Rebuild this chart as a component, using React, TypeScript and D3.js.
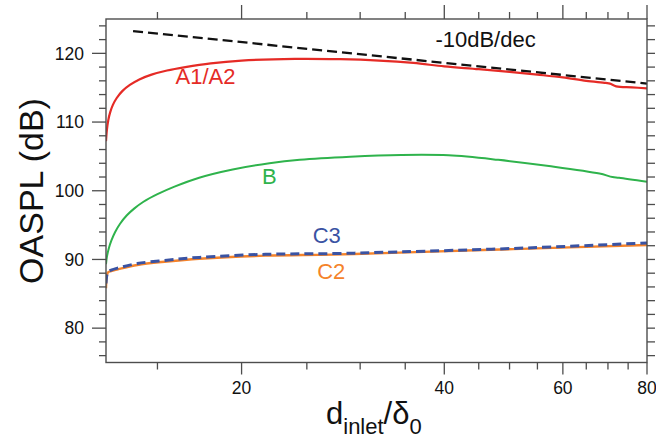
import React from "react";
import * as d3 from "d3";

// ---- data ----
const xTicksMajor = [20, 40, 60, 80];
const xTicksMinor = [15, 25, 30, 35, 45, 50, 55, 65, 70, 75];
const yTicksMajor = [80, 90, 100, 110, 120];
const yTicksMinor = [76, 78, 82, 84, 86, 88, 92, 94, 96, 98, 102, 104, 106, 108, 112, 114, 116, 118, 122, 124];

const seriesA_x = [12.58, 12.62, 12.68, 12.76, 12.88, 13.05, 13.3, 13.65, 14.1, 14.7, 15.5, 16.5, 18.0, 20, 24, 28, 32, 36, 40, 45, 50, 55, 60, 65, 69.5, 70.5, 72, 76, 80];
const seriesA_y = [107.2, 108.9, 110.3, 111.4, 112.5, 113.5, 114.5, 115.4, 116.2, 116.9, 117.5, 118.0, 118.55, 118.95, 119.2, 119.15, 118.95, 118.6, 118.1, 117.7, 117.3, 116.9, 116.5, 116.0, 115.7, 115.6, 115.2, 115.05, 114.9];

const seriesB_x = [12.58, 12.62, 12.7, 12.82, 12.98, 13.2, 13.5, 13.85, 14.3, 15.0, 15.9, 17.3, 19.4, 22.0, 24.4, 29.0, 34.5, 40.6, 48.1, 57.2, 68.0, 71.1, 72.7, 80];
const seriesB_y = [89.3, 90.4, 91.6, 92.8, 94.0, 95.2, 96.4, 97.4, 98.4, 99.5, 100.6, 101.9, 103.1, 104.0, 104.5, 104.95, 105.2, 105.15, 104.5, 103.6, 102.5, 102.0, 101.9, 101.3];

const seriesC2_x = [12.58, 12.61, 12.66, 12.8, 13.1, 14.0, 15.5, 17.3, 21.7, 27.3, 34.3, 50.6, 80];
const seriesC2_y = [85.8, 87.4, 88.1, 88.3, 88.55, 89.2, 89.7, 90.1, 90.55, 90.7, 91.0, 91.5, 92.1];

const seriesC3_x = [12.58, 12.61, 12.66, 12.8, 13.1, 14.0, 15.5, 17.3, 21.7, 27.3, 34.3, 50.6, 80];
const seriesC3_y = [86.5, 87.6, 88.2, 88.45, 88.75, 89.4, 89.9, 90.3, 90.75, 90.85, 91.1, 91.6, 92.4];

const slope_x = [13.8, 80];
const slope_y = [123.25, 115.6];

const labelText = ["A1/A2", "B", "C3", "C2", "-10dB/dec"];
const labelX = [15.96, 21.45, 25.5, 25.9, 38.8];
const labelY = [115.6, 101.05, 92.35, 87.1, 120.9];
const labelColor = ["#e52b26", "#2fb34c", "#3a53a3", "#f5832a", "#111111"];

const W = 656;
const H = 439;
const L = 106, R = 647, T = 19, B = 362.5;
const FONT = "'Liberation Sans', Arial, Helvetica, sans-serif";
const AXIS = "#4d4d4d";

export default function App() {
  const x = d3.scaleLog().domain([12.58, 80]).range([L, R]);
  const y = d3.scaleLinear().domain([75, 125]).range([B, T]);

  const mk = (xs: number[], ys: number[]) =>
    d3
      .line<number>()
      .x((_, i) => x(xs[i]))
      .y((_, i) => y(ys[i]))
      .curve(d3.curveCatmullRom.alpha(0.5))(xs as any) || "";
  const straight = (xs: number[], ys: number[]) =>
    d3
      .line<number>()
      .x((_, i) => x(xs[i]))
      .y((_, i) => y(ys[i]))(xs as any) || "";

  return (
    <svg
      width={W}
      height={H}
      style={{ position: "absolute", left: 0, top: 0, background: "#fff" }}
      fontFamily={FONT}
    >
      <defs>
        <clipPath id="plotclip">
          <rect x={L} y={T} width={R - L} height={B - T} />
        </clipPath>
      </defs>

      {/* ticks */}
      <g stroke={AXIS} strokeWidth={1.3}>
        {yTicksMajor.map((v) => (
          <g key={"ym" + v}>
            <line x1={L - 14} x2={L} y1={y(v)} y2={y(v)} />
            <line x1={R} x2={R + 8} y1={y(v)} y2={y(v)} />
          </g>
        ))}
        {yTicksMinor.map((v) => (
          <g key={"yn" + v}>
            <line x1={L - 7} x2={L} y1={y(v)} y2={y(v)} />
            <line x1={R} x2={R + 8} y1={y(v)} y2={y(v)} />
          </g>
        ))}
        {xTicksMajor.map((v) => (
          <g key={"xm" + v}>
            <line x1={x(v)} x2={x(v)} y1={B} y2={B + 12} />
            <line x1={x(v)} x2={x(v)} y1={T} y2={T - 14} />
          </g>
        ))}
        {xTicksMinor.map((v) => (
          <g key={"xn" + v}>
            <line x1={x(v)} x2={x(v)} y1={B} y2={B + 7} />
            <line x1={x(v)} x2={x(v)} y1={T} y2={T - 7} />
          </g>
        ))}
      </g>

      {/* tick labels */}
      <g fontSize={17.5} fill="#111">
        {yTicksMajor.map((v) => (
          <text key={"yl" + v} x={L - 22} y={y(v) + 6.3} textAnchor="end">
            {v}
          </text>
        ))}
        {xTicksMajor.map((v) => (
          <text key={"xl" + v} x={x(v)} y={B + 31.5} textAnchor="middle">
            {v}
          </text>
        ))}
      </g>

      {/* curves */}
      <g clipPath="url(#plotclip)" fill="none" strokeLinejoin="round">
        <path d={straight(slope_x, slope_y)} stroke="#111" strokeWidth={2.3} strokeDasharray="10,5" />
        <path d={mk(seriesA_x, seriesA_y)} stroke={labelColor[0]} strokeWidth={2.2} />
        <path d={mk(seriesB_x, seriesB_y)} stroke={labelColor[1]} strokeWidth={2} />
        <path d={mk(seriesC2_x, seriesC2_y)} stroke={labelColor[3]} strokeWidth={2.4} />
        <path d={mk(seriesC3_x, seriesC3_y)} stroke={labelColor[2]} strokeWidth={3} strokeDasharray="9,5" />
      </g>

      {/* frame */}
      <rect x={L} y={T} width={R - L} height={B - T} fill="none" stroke={AXIS} strokeWidth={1.4} />

      {/* annotations */}
      <g fontSize={22}>
        {labelText.map((t, i) => (
          <text key={t} x={x(labelX[i])} y={y(labelY[i])} fill={labelColor[i]}>
            {t}
          </text>
        ))}
      </g>

      {/* axis titles */}
      <text
        transform={`translate(43,191) rotate(-90)`}
        textAnchor="middle"
        fontSize={34}
        fill="#111"
      >
        OASPL (dB)
      </text>
      <text x={326} y={423.5} fontSize={31} fill="#111">
        <tspan>d</tspan>
        <tspan fontSize={22} dy={10.5}>inlet</tspan>
        <tspan dy={-10.5}>/δ</tspan>
        <tspan fontSize={22} dy={10.5}>0</tspan>
      </text>
    </svg>
  );
}
